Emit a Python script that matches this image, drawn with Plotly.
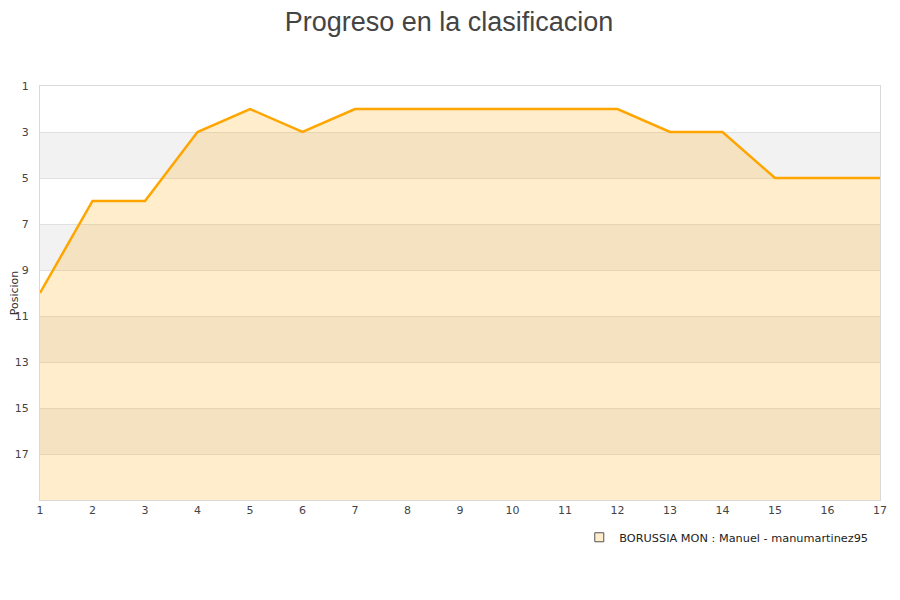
#!/usr/bin/env python3
"""
Progreso en la clasificacion - line/area chart of league position per round
"""

import plotly.graph_objects as go

# Data
jornadas = list(range(1, 18))
posiciones = [10, 6, 6, 3, 2, 3, 2, 2, 2, 2, 2, 2, 3, 3, 5, 5, 5]
team_label = "BORUSSIA MON : Manuel - manumartinez95"

y_ticks = [1, 3, 5, 7, 9, 11, 13, 15, 17]
y_bottom = 19  # last position shown at the bottom of the axis
band_starts = [3, 7, 11, 15]  # gray bands, each 2 positions tall

line_color = "#ffa500"
fill_color = "rgba(255,165,0,0.2)"
font_main = "DejaVu Sans, sans-serif"


def build_figure():
    fig = go.Figure()

    # hidden baseline so the area fills down to the bottom of the axis
    fig.add_trace(go.Scatter(
        x=jornadas,
        y=[y_bottom] * len(jornadas),
        mode="lines",
        line=dict(width=0, color=fill_color),
        showlegend=False,
        hoverinfo="skip",
    ))

    fig.add_trace(go.Scatter(
        x=jornadas,
        y=posiciones,
        mode="lines",
        line=dict(color=line_color, width=2.5),
        fill="tonexty",
        fillcolor=fill_color,
        name=team_label,
        showlegend=False,
    ))

    # legend entry: small light square with border
    fig.add_trace(go.Scatter(
        x=[None],
        y=[None],
        mode="markers",
        marker=dict(symbol="square", size=9, color="#ffedcc",
                    line=dict(color="#555555", width=1)),
        name=team_label,
        showlegend=True,
    ))

    # alternating gray bands
    for start in band_starts:
        fig.add_shape(
            type="rect", xref="paper", yref="y",
            x0=0, x1=1, y0=start, y1=start + 2,
            fillcolor="#f2f2f2", line=dict(width=0), layer="below",
        )

    # page body adds an 8px offset, margins compensate for it
    fig.update_layout(
        width=900,
        height=600,
        margin=dict(l=32, r=28, t=78, b=108, autoexpand=False),
        paper_bgcolor="white",
        plot_bgcolor="white",
        title=dict(
            text="Progreso en la clasificacion",
            xref="container", x=0.49, xanchor="center",
            yref="container", y=0.993, yanchor="top",
            pad=dict(t=0, b=0),
            font=dict(family="Liberation Sans, Arial, sans-serif", size=27, color="#444444"),
            automargin=False,
        ),
        font=dict(family=font_main, size=11, color="#444444"),
        xaxis=dict(
            range=[1, 17],
            tickmode="array",
            tickvals=jornadas,
            showgrid=False,
            zeroline=False,
            showline=True,
            linecolor="#d9d9d9",
            linewidth=1,
            mirror=True,
            ticks="",
            automargin=False,
            tickfont=dict(size=11, color="#444444"),
        ),
        yaxis=dict(
            range=[y_bottom, 1],
            tickmode="array",
            tickvals=y_ticks,
            showgrid=True,
            gridcolor="#e0e0e0",
            gridwidth=1,
            zeroline=False,
            showline=True,
            linecolor="#d9d9d9",
            linewidth=1,
            mirror=True,
            ticks="",
            automargin=False,
            ticklabelstandoff=8,
            tickfont=dict(size=11, color="#444444"),
            title=dict(text="Posicion", font=dict(size=11, color="#333333"), standoff=10),
        ),
        legend=dict(
            orientation="h",
            x=0.992, xanchor="right",
            y=-0.09, yanchor="middle",
            font=dict(family=font_main, size=11.3, color="#222222"),
            bgcolor="rgba(0,0,0,0)",
            itemwidth=30,
        ),
        showlegend=True,
    )
    return fig


if __name__ == "__main__":
    fig = build_figure()
    fig.write_html("out.html")
    print("OK: chart saved to out.html")
